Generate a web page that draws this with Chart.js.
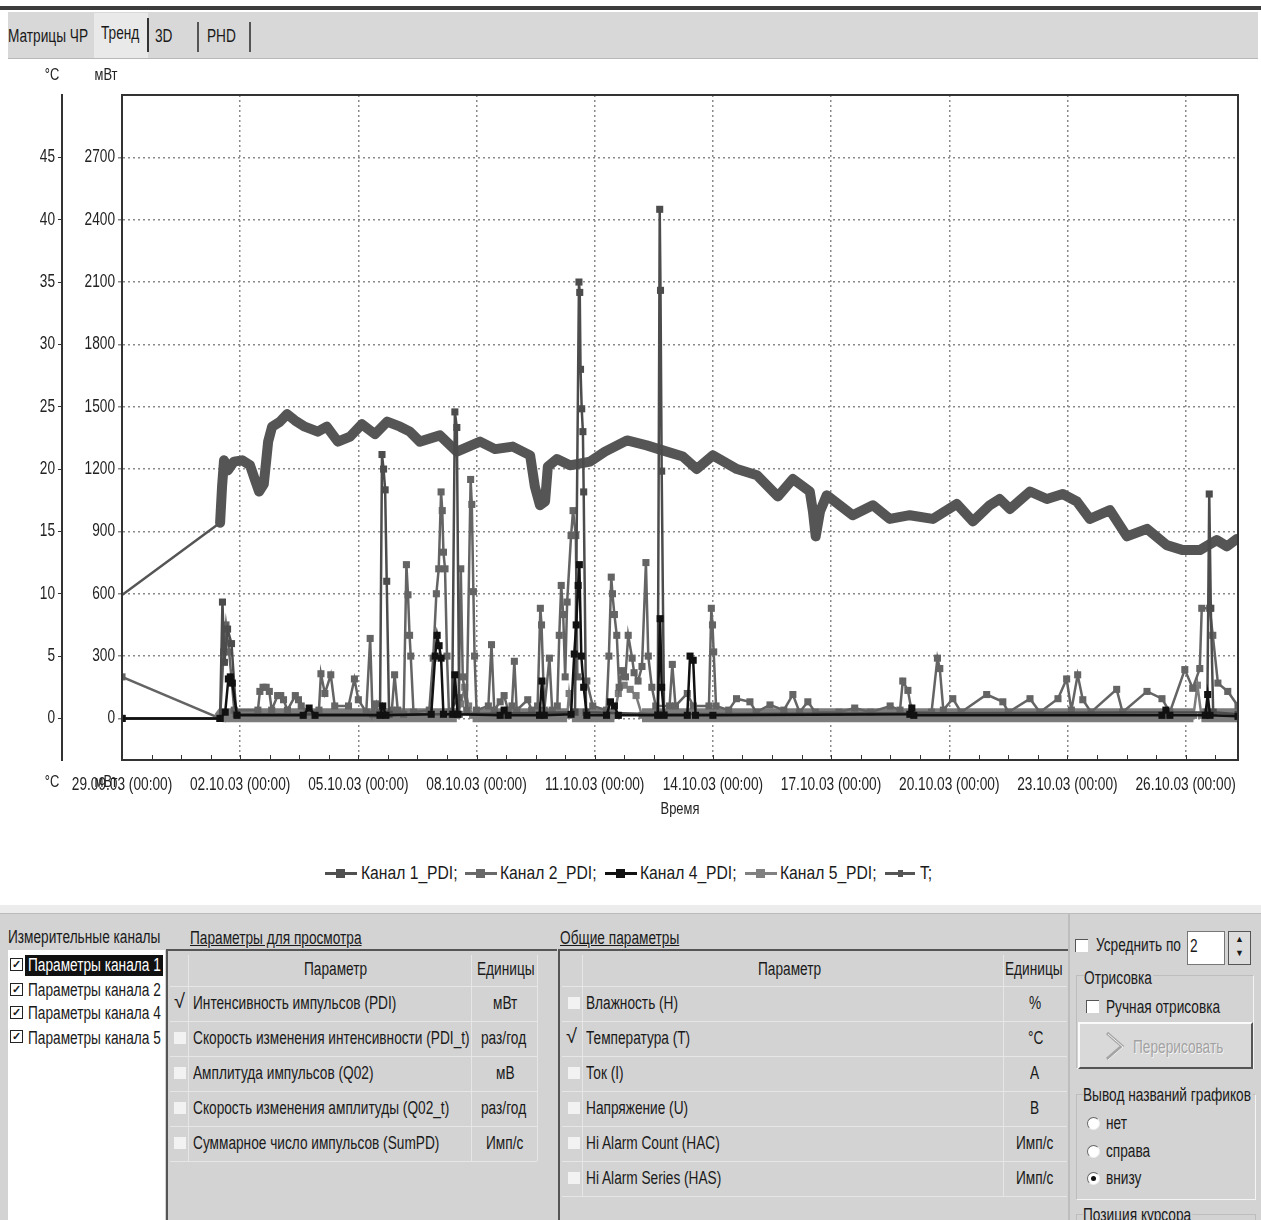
<!DOCTYPE html>
<html>
<head>
<meta charset="utf-8">
<script src="https://cdn.jsdelivr.net/npm/chart.js@4.4.1/dist/chart.umd.min.js"></script>
<style>
  body { margin:0; width:1261px; height:1220px; overflow:hidden; background:#fff;
         font-family:'Liberation Sans',Arial,sans-serif; color:#1a1a1a; }
  .abs { position:absolute; white-space:nowrap; }
  /* the original UI font is a condensed one */
  .n { position:absolute; white-space:nowrap; font-size:18px; line-height:20px;
       transform:scaleX(0.76); transform-origin:0 0; }
  .n.wide { transform:scaleX(0.87); }
  .cb { position:absolute; width:12px; height:12px; background:#f2f2f2; }
  .cbw { position:absolute; width:12px; height:12px; background:#fff;
         border-left:1px solid #555; border-top:1px solid #555; }
  .cbk { position:absolute; width:11px; height:11px; border:1px solid #222; background:#fff;
         font-size:11px; line-height:11px; text-align:center; font-weight:bold; }
  .hl { position:absolute; height:1px; background:#e6e6e6; }
  .vl { position:absolute; width:1px; background:#e6e6e6; }
  .rad { position:absolute; width:11px; height:11px; border-radius:50%; background:#fff;
         border:1px solid #666; border-right-color:#eee; border-bottom-color:#eee; }
  .mk { position:absolute; width:32px; height:3px; }
  .mk b { position:absolute; left:11px; top:-3px; width:9px; height:9px; }
</style>
</head>
<body>

<!-- tab strip -->
<div class="abs" style="left:0;top:6px;width:1261px;height:4px;background:#3c3c3c"></div>
<div class="abs" style="left:8px;top:12px;width:1250px;height:46px;background:#d8d8d8;border-bottom:1px solid #b8b8b8"></div>
<div class="abs" style="left:94px;top:13px;width:54px;height:45px;background:#e9e9e9"></div>
<div class="n" style="left:8px;top:26px">Матрицы ЧР</div>
<div class="n" style="left:101px;top:23px">Тренд</div>
<div class="n" style="left:155px;top:26px">3D</div>
<div class="n" style="left:207px;top:26px">PHD</div>
<div class="abs" style="left:147px;top:18px;width:2px;height:34px;background:#333"></div>
<div class="abs" style="left:197px;top:22px;width:2px;height:30px;background:#555"></div>
<div class="abs" style="left:249px;top:22px;width:2px;height:30px;background:#555"></div>

<!-- chart -->
<div class="abs" style="left:0;top:60px;width:1261px;height:800px">
  <canvas id="trend"></canvas>
</div>

<!-- legend -->
<div class="mk" style="left:325px;top:872px;background:#505050"><b style="background:#505050"></b></div>
<div class="n wide" style="left:361px;top:863px">Канал 1_PDI;</div>
<div class="mk" style="left:465px;top:872px;background:#686868"><b style="background:#686868"></b></div>
<div class="n wide" style="left:500px;top:863px">Канал 2_PDI;</div>
<div class="mk" style="left:605px;top:872px;background:#111"><b style="background:#111"></b></div>
<div class="n wide" style="left:640px;top:863px">Канал 4_PDI;</div>
<div class="mk" style="left:745px;top:872px;background:#808080"><b style="background:#808080"></b></div>
<div class="n wide" style="left:780px;top:863px">Канал 5_PDI;</div>
<div class="mk" style="left:885px;top:872px;background:#555;width:30px"><b style="background:#555;left:13px;top:-2px;width:5px;height:7px"></b></div>
<div class="n wide" style="left:920px;top:863px">T;</div>

<!-- bottom panel -->
<div class="abs" style="left:0;top:905px;width:1261px;height:8px;background:#ececec"></div>
<div class="abs" style="left:0;top:913px;width:1261px;height:307px;background:#d3d3d3;border-top:1px solid #bbb"></div>

<div class="n" style="left:8px;top:927px">Измерительные каналы</div>
<div class="abs" style="left:8px;top:950px;width:157px;height:270px;background:#fff"></div>
<div class="abs" style="left:25px;top:955px;width:138px;height:21px;background:#111"></div>
<div class="cbk" style="left:10px;top:958px">✓</div>
<div class="n" style="left:28px;top:955px;color:#fff">Параметры канала 1</div>
<div class="cbk" style="left:10px;top:983px">✓</div>
<div class="n" style="left:28px;top:980px">Параметры канала 2</div>
<div class="cbk" style="left:10px;top:1006px">✓</div>
<div class="n" style="left:28px;top:1003px">Параметры канала 4</div>
<div class="cbk" style="left:10px;top:1030px">✓</div>
<div class="n" style="left:28px;top:1028px">Параметры канала 5</div>

<div class="n" style="left:190px;top:928px;text-decoration:underline">Параметры для просмотра</div>
<div class="abs" style="left:167px;top:949px;width:390px;height:2px;background:#555"></div>
<div class="abs" style="left:166px;top:949px;width:2px;height:271px;background:#555"></div>
<div class="hl" style="left:170px;top:986px;width:367px"></div>
<div class="hl" style="left:170px;top:1021px;width:367px"></div>
<div class="hl" style="left:170px;top:1056px;width:367px"></div>
<div class="hl" style="left:170px;top:1091px;width:367px"></div>
<div class="hl" style="left:170px;top:1126px;width:367px"></div>
<div class="hl" style="left:170px;top:1161px;width:367px"></div>
<div class="vl" style="left:188px;top:955px;height:206px"></div>
<div class="vl" style="left:471px;top:955px;height:206px"></div>
<div class="vl" style="left:537px;top:955px;height:206px"></div>
<div class="n" style="left:304px;top:959px">Параметр</div>
<div class="n" style="left:477px;top:959px">Единицы</div>
<div class="abs" style="left:174px;top:990px;font-size:20px">√</div>
<div class="n" style="left:193px;top:993px">Интенсивность импульсов (PDI)</div>
<div class="n" style="left:493px;top:993px">мВт</div>
<div class="cb" style="left:174px;top:1032px"></div>
<div class="n" style="left:193px;top:1028px">Скорость изменения интенсивности (PDI_t)</div>
<div class="n" style="left:481px;top:1028px">раз/год</div>
<div class="cb" style="left:174px;top:1067px"></div>
<div class="n" style="left:193px;top:1063px">Амплитуда импульсов (Q02)</div>
<div class="n" style="left:496px;top:1063px">мВ</div>
<div class="cb" style="left:174px;top:1102px"></div>
<div class="n" style="left:193px;top:1098px">Скорость изменения амплитуды (Q02_t)</div>
<div class="n" style="left:481px;top:1098px">раз/год</div>
<div class="cb" style="left:174px;top:1137px"></div>
<div class="n" style="left:193px;top:1133px">Суммарное число импульсов (SumPD)</div>
<div class="n" style="left:486px;top:1133px">Имп/с</div>

<div class="n" style="left:560px;top:928px;text-decoration:underline">Общие параметры</div>
<div class="abs" style="left:559px;top:949px;width:509px;height:2px;background:#555"></div>
<div class="abs" style="left:558px;top:949px;width:2px;height:271px;background:#555"></div>
<div class="hl" style="left:562px;top:986px;width:505px"></div>
<div class="hl" style="left:562px;top:1021px;width:505px"></div>
<div class="hl" style="left:562px;top:1056px;width:505px"></div>
<div class="hl" style="left:562px;top:1091px;width:505px"></div>
<div class="hl" style="left:562px;top:1126px;width:505px"></div>
<div class="hl" style="left:562px;top:1161px;width:505px"></div>
<div class="hl" style="left:562px;top:1196px;width:505px"></div>
<div class="vl" style="left:582px;top:955px;height:241px"></div>
<div class="vl" style="left:1003px;top:955px;height:241px"></div>
<div class="n" style="left:758px;top:959px">Параметр</div>
<div class="n" style="left:1005px;top:959px">Единицы</div>
<div class="cb" style="left:568px;top:997px"></div>
<div class="n" style="left:586px;top:993px">Влажность (H)</div>
<div class="n" style="left:1029px;top:993px">%</div>
<div class="abs" style="left:566px;top:1025px;font-size:20px">√</div>
<div class="n" style="left:586px;top:1028px">Температура (T)</div>
<div class="n" style="left:1028px;top:1028px">°C</div>
<div class="cb" style="left:568px;top:1067px"></div>
<div class="n" style="left:586px;top:1063px">Ток (I)</div>
<div class="n" style="left:1030px;top:1063px">A</div>
<div class="cb" style="left:568px;top:1102px"></div>
<div class="n" style="left:586px;top:1098px">Напряжение (U)</div>
<div class="n" style="left:1030px;top:1098px">B</div>
<div class="cb" style="left:568px;top:1137px"></div>
<div class="n" style="left:586px;top:1133px">Hi Alarm Count (HAC)</div>
<div class="n" style="left:1016px;top:1133px">Имп/с</div>
<div class="cb" style="left:568px;top:1172px"></div>
<div class="n" style="left:586px;top:1168px">Hi Alarm Series (HAS)</div>
<div class="n" style="left:1016px;top:1168px">Имп/с</div>

<div class="abs" style="left:1068px;top:913px;width:2px;height:307px;background:#bdbdbd"></div>
<div class="cbw" style="left:1075px;top:939px"></div>
<div class="n" style="left:1096px;top:935px">Усреднить по</div>
<div class="abs" style="left:1187px;top:931px;width:36px;height:32px;background:#fff;border:1px solid #777"></div>
<div class="n" style="left:1190px;top:936px">2</div>
<div class="abs" style="left:1228px;top:931px;width:21px;height:32px;background:#dcdcdc;border:1px solid #555;font-size:9px;line-height:14px;text-align:center">▲<br>▼</div>
<div class="abs" style="left:1076px;top:975px;width:176px;height:92px;border:1px solid #bdbdbd;border-right-color:#f4f4f4;border-bottom-color:#f4f4f4"></div>
<div class="n" style="left:1084px;top:968px;background:#d3d3d3;padding-right:2px">Отрисовка</div>
<div class="cbw" style="left:1086px;top:1000px"></div>
<div class="n" style="left:1106px;top:997px">Ручная отрисовка</div>
<div class="abs" style="left:1078px;top:1022px;width:171px;height:43px;background:#d9d9d9;border:2px solid #fafafa;border-right-color:#555;border-bottom-color:#555"></div>
<svg class="abs" style="left:1104px;top:1030px" width="26" height="32" viewBox="0 0 26 32"><polyline points="3,3 18,16 3,29" fill="none" stroke="#a5a5a5" stroke-width="3"/><polyline points="4,4 19,17 4,30" fill="none" stroke="#f2f2f2" stroke-width="1"/></svg>
<div class="n" style="left:1133px;top:1037px;color:#a2a2a2;text-shadow:1px 1px 0 #f6f6f6">Перерисовать</div>
<div class="abs" style="left:1076px;top:1094px;width:178px;height:104px;border:1px solid #bdbdbd;border-right-color:#f4f4f4;border-bottom-color:#f4f4f4"></div>
<div class="n" style="left:1083px;top:1085px;background:#d3d3d3;padding-right:2px">Вывод названий графиков</div>
<div class="rad" style="left:1087px;top:1117px"></div>
<div class="n" style="left:1106px;top:1113px">нет</div>
<div class="rad" style="left:1087px;top:1145px"></div>
<div class="n" style="left:1106px;top:1141px">справа</div>
<div class="rad" style="left:1087px;top:1172px"><div style="position:absolute;left:3px;top:3px;width:5px;height:5px;border-radius:50%;background:#111"></div></div>
<div class="n" style="left:1106px;top:1168px">внизу</div>
<div class="abs" style="left:1076px;top:1214px;width:178px;height:20px;border:1px solid #bdbdbd"></div>
<div class="n" style="left:1083px;top:1205px;background:#d3d3d3;padding-right:2px">Позиция курсора</div>

<script>
// days since 29.09.03 00:00 -> value
const xTickDays = [0, 3, 6, 9, 12, 15, 18, 21, 24, 27];
const xTickLabels = ['29.09.03 (00:00)', '02.10.03 (00:00)', '05.10.03 (00:00)', '08.10.03 (00:00)',
  '11.10.03 (00:00)', '14.10.03 (00:00)', '17.10.03 (00:00)', '20.10.03 (00:00)',
  '23.10.03 (00:00)', '26.10.03 (00:00)'];
const powerTicks = [0, 300, 600, 900, 1200, 1500, 1800, 2100, 2400, 2700];   // мВт
const tempTicks = [0, 5, 10, 15, 20, 25, 30, 35, 40, 45];                    // °C

// Канал 1_PDI, мВт
const ch1 = [[0,0],[2.49,0],[2.55,560],[2.6,270],[2.68,430],[2.78,360],[2.9,20],
  [6.55,20],[6.6,1270],[6.64,1200],[6.68,1100],[6.72,660],[6.78,20],
  [8.38,20],[8.45,1475],[8.5,1400],[8.56,20],
  [11.5,30],[11.6,2100],[11.62,2050],[11.64,1680],[11.67,1490],[11.7,1380],[11.72,1090],[11.78,30],
  [13.6,20],[13.65,2450],[13.67,2060],[13.7,1190],[13.76,20],
  [27.55,30],[27.6,1080],[27.64,530],[27.7,30],[28.33,20]];

// Канал 2_PDI, мВт
const ch2 = [[0,200],[2.49,0],[2.58,320],[2.64,450],[2.72,320],[2.85,40],
  [3.45,40],[3.5,130],[3.58,150],[3.66,150],[3.74,130],[3.8,40],[3.95,110],[4.03,110],[4.1,90],[4.2,40],[4.4,110],[4.48,90],[4.55,60],[4.7,30],
  [5.0,40],[5.05,215],[5.15,120],[5.3,210],[5.4,60],[5.75,60],[5.9,190],[6.0,90],[6.2,30],[6.3,385],[6.36,20],[6.45,70],[6.5,20],
  [6.85,40],[6.92,210],[7.0,40],[7.15,20],[7.22,740],[7.26,595],[7.3,400],[7.33,300],[7.4,30],
  [7.8,40],[7.9,290],[7.98,600],[8.04,720],[8.1,1090],[8.13,1000],[8.16,800],[8.2,720],[8.25,300],[8.3,30],
  [8.55,100],[8.6,720],[8.65,200],[8.75,40],[8.85,1150],[8.88,1030],[8.92,610],[8.95,300],[9.0,40],
  [9.3,60],[9.38,355],[9.45,40],[9.6,80],[9.7,110],[9.8,40],[9.9,60],[9.96,275],[10.02,40],[10.3,90],[10.4,40],
  [10.55,60],[10.62,530],[10.65,450],[10.72,40],[10.85,290],[10.92,40],
  [11.05,60],[11.1,400],[11.15,640],[11.2,500],[11.25,200],[11.3,560],[11.4,880],[11.45,1000],[11.52,880],[11.56,200],[11.8,180],[11.95,60],
  [12.3,40],[12.36,300],[12.42,680],[12.45,600],[12.5,500],[12.56,400],[12.62,150],[12.7,230],[12.78,200],[12.85,400],[12.95,290],
  [13.0,220],[13.1,180],[13.2,250],[13.3,750],[13.36,300],[13.45,150],[13.55,60],
  [13.9,60],[13.97,260],[14.05,60],[14.35,120],[14.5,60],[14.9,60],[14.96,530],[14.99,450],[15.02,320],[15.08,60],
  [15.4,40],[15.6,95],[15.94,80],[16.1,30],[16.45,65],[16.8,40],[17.03,115],[17.2,30],[17.41,80],[17.6,30],
  [18.2,30],[18.6,50],[19.0,30],[19.5,60],[19.75,40],[19.82,180],[19.95,135],[20.05,30],[20.55,30],[20.7,290],[20.76,240],[20.85,40],
  [21.09,95],[21.3,30],[21.95,115],[22.36,80],[22.5,30],[23.05,95],[23.3,30],[23.76,95],[23.98,190],[24.1,40],[24.26,210],[24.39,90],[24.6,30],
  [25.25,140],[25.4,30],[26.02,130],[26.4,95],[26.6,30],[26.98,235],[27.18,145],[27.36,240],[27.41,530],[27.61,530],[27.69,400],[27.82,170],[28.07,130],[28.33,60]];

// Канал 4_PDI, мВт
const ch4 = [[0,0],[2.49,0],[2.62,30],[2.7,190],[2.75,200],[2.8,170],[2.92,15],
  [4.6,15],[4.75,50],[4.9,15],[6.55,15],[6.62,60],[6.7,15],
  [7.85,20],[7.95,300],[8.0,400],[8.05,350],[8.1,290],[8.16,20],[8.4,20],[8.45,210],[8.52,20],
  [9.6,15],[9.7,40],[9.8,15],[10.6,15],[10.66,180],[10.72,15],
  [11.4,20],[11.48,310],[11.53,450],[11.58,640],[11.61,740],[11.66,300],[11.72,150],[11.8,15],
  [12.3,15],[12.4,80],[12.5,60],[12.6,15],[13.6,15],[13.66,480],[13.7,150],[13.76,15],
  [14.35,15],[14.42,300],[14.5,280],[14.56,15],[15.0,15],[20.0,20],[20.05,50],[20.1,15],
  [26.4,15],[26.5,40],[26.6,15],[27.5,15],[27.56,115],[27.62,15],[28.33,10]];

// Канал 5_PDI, мВт
const ch5 = [[0,0],[2.49,0],[2.55,15],[3.5,15],[4.5,15],[5.5,15],[6.5,15],[7.5,15],[8.5,15],
  [8.6,70],[8.7,150],[8.8,60],[8.9,15],[9.5,15],[10.5,15],[11.3,15],[11.35,120],[11.42,15],
  [12.5,15],[12.6,120],[12.75,160],[12.9,140],[13.05,110],[13.2,15],
  [13.5,15],[14.5,15],[15.5,15],[16.5,15],[17.5,15],[18.5,15],[19.5,15],[20.5,15],
  [21.5,15],[22.5,15],[23.5,15],[24.5,15],[25.5,15],[26.5,15],[27.2,15],[27.3,160],[27.4,15],[28.33,15]];

// T, °C
const temp = [[0,9.9],[2.49,15.7],[2.54,18.6],[2.59,20.7],[2.69,19.9],[2.84,20.6],[3.05,20.7],[3.25,20.3],
  [3.38,19.1],[3.48,18.2],[3.6,18.8],[3.71,22.2],[3.81,23.4],[4.01,23.8],[4.19,24.4],[4.39,23.9],
  [4.64,23.4],[4.97,23.0],[5.2,23.4],[5.48,22.2],[5.79,22.6],[6.09,23.6],[6.42,22.8],[6.73,23.8],
  [7.06,23.4],[7.31,23.0],[7.56,22.2],[8.07,22.7],[8.5,21.4],[9.09,22.2],[9.47,21.6],[9.92,21.8],
  [10.36,21.1],[10.48,18.6],[10.61,17.1],[10.74,17.4],[10.81,20.2],[11.04,20.8],[11.37,20.3],[11.88,20.6],
  [12.26,21.4],[12.82,22.3],[13.32,21.9],[13.83,21.4],[14.24,21.0],[14.59,20.0],[15.0,21.1],[15.61,20.0],
  [16.12,19.5],[16.65,17.8],[17.03,19.2],[17.46,18.2],[17.54,16.6],[17.61,14.6],[17.72,16.6],[17.89,17.9],
  [18.55,16.3],[19.06,17.1],[19.49,16.0],[20.0,16.3],[20.58,16.0],[21.19,17.2],[21.6,15.8],[22.03,17.1],
  [22.28,17.6],[22.54,16.8],[23.05,18.2],[23.48,17.6],[23.88,18.0],[24.24,17.4],[24.57,16.0],[25.08,16.7],
  [25.51,14.6],[26.02,15.2],[26.52,13.9],[26.93,13.5],[27.36,13.5],[27.79,14.3],[28.05,13.8],[28.3,14.4]];

const FONT = "'Liberation Sans', Arial, sans-serif";
const CONDENSE = 0.76;
Chart.defaults.font.family = FONT;
Chart.defaults.font.size = 18;
Chart.defaults.color = '#222';

const toXY = arr => arr.map(([x, y]) => ({ x, y }));

function channel(label, data, color, extra) {
  return Object.assign({
    label, data: toXY(data), yAxisID: 'y',
    borderColor: color, backgroundColor: color,
    borderWidth: 2.5, pointStyle: 'rect', pointRadius: 5, pointBorderWidth: 0,
    tension: 0
  }, extra || {});
}

// narrow text like the original program (no condensed face is installed)
const condensePlugin = {
  id: 'condense',
  beforeDraw(chart) {
    const ctx = chart.ctx;
    if (ctx._condensed) return;
    const fill = ctx.fillText;
    ctx.fillText = function (text, x, y) {
      this.save();
      this.translate(x, y);
      this.scale(CONDENSE, 1);
      fill.call(this, text, 0, 0);
      this.restore();
    };
    ctx._condensed = true;
  }
};

// unit captions, plot frame, small ticks on the time axis
const framePlugin = {
  id: 'frame',
  afterDraw(chart) {
    const { ctx, chartArea: a, scales } = chart;
    ctx.save();
    ctx.strokeStyle = '#333';
    ctx.lineWidth = 2;
    ctx.strokeRect(a.left, a.top, a.right - a.left, a.bottom - a.top);
    ctx.lineWidth = 1;
    ctx.beginPath();
    for (let d = 0; d < 28.3; d += 0.75) {
      const px = Math.round(scales.x.getPixelForValue(d)) + 0.5;
      ctx.moveTo(px, a.bottom);
      ctx.lineTo(px, a.bottom - 5);
    }
    ctx.stroke();
    ctx.fillStyle = '#222';
    ctx.font = '17px ' + FONT;
    ctx.textAlign = 'center';
    ctx.textBaseline = 'middle';
    ctx.fillText('°C', 52, 15);
    ctx.fillText('мВт', 106, 15);
    ctx.fillText('°C', 52, a.bottom + 22);
    ctx.fillText('мВт', 106, a.bottom + 22);
    ctx.restore();
  }
};

new Chart(document.getElementById('trend'), {
  type: 'line',
  data: {
    datasets: [
      channel('Канал 4_PDI', ch4, '#111111', { order: 1 }),
      channel('Канал 1_PDI', ch1, '#4c4c4c', { order: 2 }),
      channel('Канал 2_PDI', ch2, '#646464', { order: 3 }),
      channel('Канал 5_PDI', ch5, '#7c7c7c', {
        order: 4,
        segment: {
          borderWidth: c => (c.p0.parsed.x > 2 && c.p0.parsed.y < 40 && c.p1.parsed.y < 40) ? 14 : 2.5
        }
      }),
      {
        label: 'T', data: toXY(temp), yAxisID: 'yT', order: 5,
        borderColor: '#555', backgroundColor: '#555',
        borderWidth: 10, borderJoinStyle: 'round', borderCapStyle: 'round',
        pointRadius: 0, tension: 0,
        segment: { borderWidth: c => (c.p1.parsed.x - c.p0.parsed.x > 1) ? 2.5 : 10 }
      }
    ]
  },
  options: {
    responsive: true,
    maintainAspectRatio: false,
    animation: false,
    events: [],
    layout: { padding: { left: 0, right: 23, top: 35, bottom: 0 } },
    plugins: { legend: { display: false }, tooltip: { enabled: false } },
    scales: {
      x: {
        type: 'linear', min: 0, max: 28.33,
        afterBuildTicks: s => { s.ticks = xTickDays.map(v => ({ value: v })); },
        afterFit: s => { s.height = 100; s.paddingLeft = 0; s.paddingRight = 0; },
        ticks: { callback: (v, i) => xTickLabels[i], maxRotation: 0, autoSkip: false, padding: 14 },
        grid: { color: '#8a8a8a', lineWidth: 1.5, drawTicks: false },
        border: { display: false, dash: [2, 3] },
        title: { display: true, text: 'Время', font: { size: 17 }, padding: { top: 4, bottom: 40 } }
      },
      y: {
        position: 'left', weight: 0, min: -200, max: 3000,
        afterBuildTicks: s => { s.ticks = powerTicks.map(v => ({ value: v })); },
        afterFit: s => { s.width = 60; },
        ticks: { callback: v => String(v), padding: 3 },
        grid: { color: '#8a8a8a', lineWidth: 1.5, tickLength: 4 },
        border: { display: true, color: '#333', width: 2, dash: [2, 3] }
      },
      yT: {
        position: 'left', weight: 1, min: -200 / 60, max: 50,
        afterBuildTicks: s => { s.ticks = tempTicks.map(v => ({ value: v })); },
        afterFit: s => { s.width = 62; },
        ticks: { callback: v => String(v), padding: 3 },
        grid: { drawOnChartArea: false, color: '#333', tickLength: 4 },
        border: { display: true, color: '#333', width: 2 }
      }
    }
  },
  plugins: [condensePlugin, framePlugin]
});
</script>
</body>
</html>
